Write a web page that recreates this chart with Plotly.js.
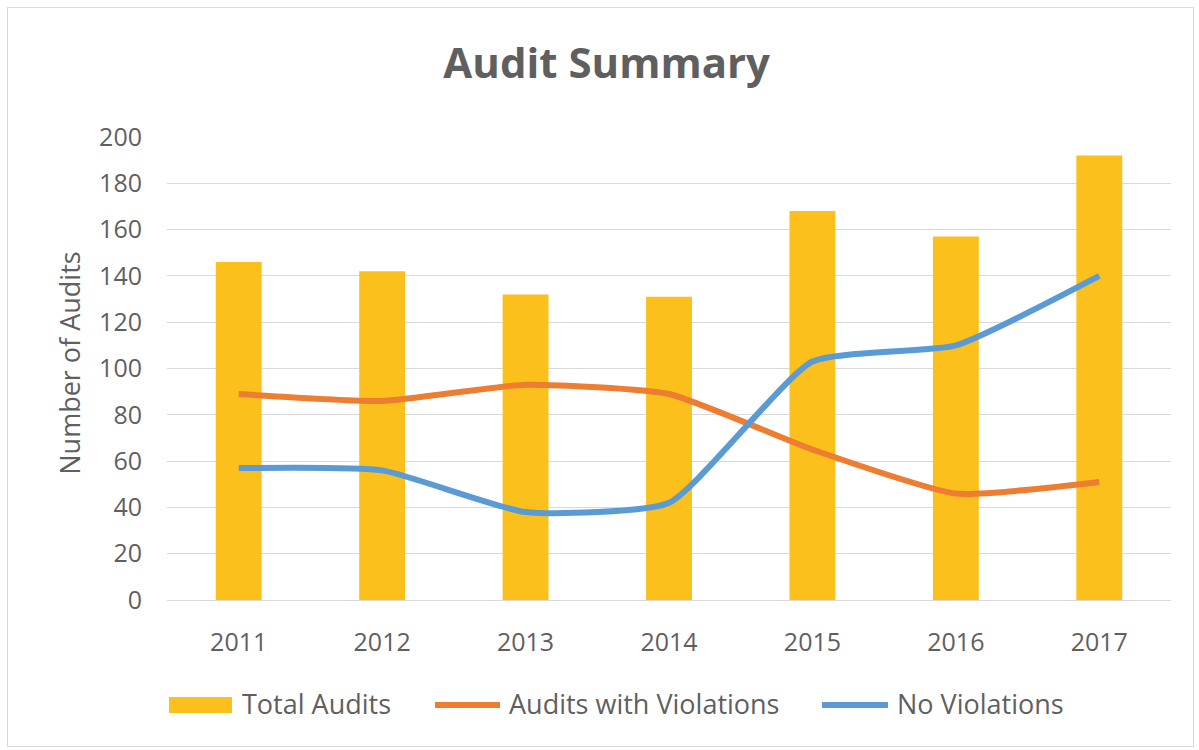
<!DOCTYPE html>
<html>
<head>
<meta charset="utf-8">
<script src="https://cdn.plot.ly/plotly-3.0.1.min.js"></script>
<style>
  html, body { margin: 0; padding: 0; background: #ffffff; }
  #wrap { position: relative; width: 1199px; height: 750px; }
  #chart { position: absolute; left: 0; top: 0; width: 1199px; height: 750px; }
  #frame { position: absolute; left: 7px; top: 7px; width: 1185px; height: 738px;
           border: 1px solid #d9d9d9; pointer-events: none; }
</style>
</head>
<body>
<div id="wrap">
  <div id="chart"></div>
  <div id="frame"></div>
</div>
<script>
var years = ['2011', '2012', '2013', '2014', '2015', '2016', '2017'];
var totalAudits = [146, 142, 132, 131, 168, 157, 192];
var withViolations = [89, 86, 93, 89, 65, 46, 51];
var noViolations = [57, 56, 38, 42, 103, 110, 140];
var seriesNames = ['Total Audits', 'Audits with Violations', 'No Violations'];
var seriesColors = ['#FCC01C', '#ED7D31', '#5B9BD5'];
var chartTitle = 'Audit Summary';
var yTitle = 'Number of Audits';

var font = '"Open Sans", "DejaVu Sans", sans-serif';
var textGray = '#5f5f5f';

var traces = [
  {
    type: 'bar',
    x: years,
    y: totalAudits,
    name: seriesNames[0],
    width: 0.32,
    marker: { color: seriesColors[0], line: { width: 0 } }
  },
  {
    type: 'scatter',
    mode: 'lines',
    x: years,
    y: withViolations,
    name: seriesNames[1],
    line: { color: seriesColors[1], width: 6, shape: 'spline', smoothing: 0.5 }
  },
  {
    type: 'scatter',
    mode: 'lines',
    x: years,
    y: noViolations,
    name: seriesNames[2],
    line: { color: seriesColors[2], width: 6, shape: 'spline', smoothing: 0.5 }
  }
];

// Legend and axis title placed below/left of the plot (pixel positions converted to paper units)
var plotL = 167, plotW = 1004, plotB = 600, plotH = 462.5;
function px(x) { return (x - plotL) / plotW; }
function py(y) { return (plotB - y) / plotH; }
var legendY = 705;
var legendItems = [
  { kind: 'box', x0: 169, x1: 232, tx: 240 },
  { kind: 'line', x0: 435, x1: 500, tx: 507 },
  { kind: 'line', x0: 822, x1: 888, tx: 895 }
];
var shapes = [];
var annotations = [];
legendItems.forEach(function (it, i) {
  if (it.kind === 'box') {
    shapes.push({ type: 'rect', xref: 'paper', yref: 'paper',
      x0: px(it.x0), x1: px(it.x1), y0: py(legendY + 8), y1: py(legendY - 8),
      fillcolor: seriesColors[i], line: { width: 0 } });
  } else {
    shapes.push({ type: 'line', xref: 'paper', yref: 'paper',
      x0: px(it.x0), x1: px(it.x1), y0: py(legendY), y1: py(legendY),
      line: { color: seriesColors[i], width: 6 } });
  }
  annotations.push({ xref: 'paper', yref: 'paper', x: px(it.tx), y: py(legendY - 1.5),
    xanchor: 'left', yanchor: 'middle', showarrow: false, text: seriesNames[i],
    font: { family: font, size: 27, color: textGray } });
});
annotations.push({ xref: 'paper', yref: 'paper', x: px(70), y: py(364),
  xanchor: 'center', yanchor: 'middle', showarrow: false, textangle: -90,
  text: yTitle, font: { family: font, size: 27, color: textGray } });

var layout = {
  width: 1199,
  height: 750,
  paper_bgcolor: '#ffffff',
  plot_bgcolor: '#ffffff',
  margin: { l: 167, r: 28, t: 137, b: 150, pad: 0 },
  font: { family: font, color: textGray, size: 25 },
  title: {
    text: chartTitle,
    font: { family: font, size: 42, color: textGray, weight: 700 },
    xref: 'container', x: 0.506, xanchor: 'center',
    yref: 'container', y: 0.915, yanchor: 'middle'
  },
  xaxis: {
    type: 'category',
    showgrid: false,
    showline: true,
    linecolor: '#D9D9D9',
    linewidth: 1,
    ticks: '',
    ticklabelstandoff: 20,
    tickfont: { family: font, size: 25, color: textGray },
    fixedrange: true
  },
  yaxis: {
    range: [0, 200],
    dtick: 20,
    tick0: 0,
    showgrid: true,
    gridcolor: '#D9D9D9',
    gridwidth: 1,
    zeroline: false,
    showline: false,
    ticks: '',
    ticklabelstandoff: 24,
    tickfont: { family: font, size: 25, color: textGray },
    fixedrange: true
  },
  bargap: 0.68,
  showlegend: false,
  shapes: shapes,
  annotations: annotations
};

Plotly.newPlot('chart', traces, layout, { displayModeBar: false, staticPlot: true });
</script>
</body>
</html>
